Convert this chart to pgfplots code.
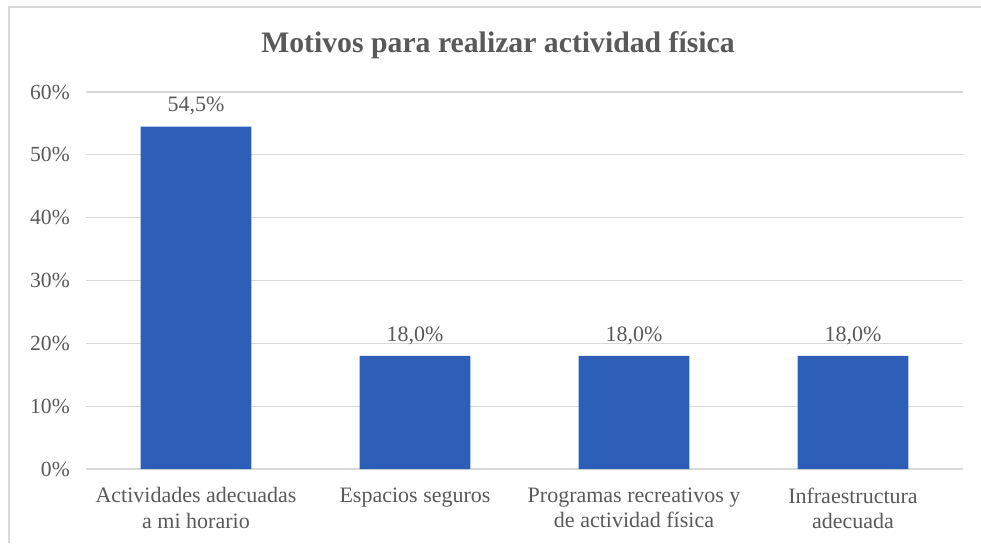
\documentclass[border=0pt]{standalone}
\usepackage{pgfplots}
\pgfplotsset{compat=1.18}
\usepackage{fontspec}
\setmainfont{Liberation Serif}
\definecolor{barblue}{HTML}{2E5FB8}
\definecolor{txtgray}{HTML}{595959}
\definecolor{gridgray}{HTML}{D9D9D9}
\definecolor{framegray}{HTML}{D9D9D9}
\begin{document}
\begin{tikzpicture}[x=0.75pt,y=0.75pt]
\path[use as bounding box] (0,0) rectangle (981,543);
\draw[framegray, line width=1.5pt] (9,0) -- (9,536) -- (981,536);
\node[font=\fontsize{22.3}{26}\selectfont\bfseries, text=txtgray] at (498,498) {Motivos para realizar actividad física};
\begin{axis}[
  at={(64.875pt,55.5pt)}, anchor=south west,
  scale only axis,
  width=657pt, height=282.75pt,
  xmin=-0.5, xmax=3.5,
  ymin=0, ymax=60,
  ytick={0,10,...,60},
  xtick={0,1,2,3},
  xticklabels={{Actividades adecuadas\\a mi horario},{Espacios seguros},{Programas recreativos y\\de actividad física},{Infraestructura\\adecuada}},
  xticklabel style={align=center, font=\fontsize{16.5}{19}\selectfont, text=txtgray, anchor=north, yshift=-10.5pt},
  yticklabel={\pgfmathprintnumber{\tick}\%},
  yticklabel style={font=\fontsize{16.2}{19}\selectfont, text=txtgray, xshift=-9pt},
  /pgf/number format/assume math mode=true,
  axis line style={draw=none},
  axis x line*=bottom,
  x axis line style={draw=gridgray, line width=0.9pt},
  major tick length=0pt,
  ymajorgrids,
  grid style={gridgray, line width=0.9pt},
  ybar, bar width=83pt,
  nodes near coords={\pgfmathprintnumber[fixed,fixed zerofill,precision=1,use comma]{\pgfplotspointmeta}\%},
  nodes near coords style={font=\fontsize{16.5}{19}\selectfont, text=txtgray, /pgf/number format/assume math mode=true, yshift=5pt},
]
\addplot[fill=barblue, draw=none] coordinates {(0,54.5) (1,18.0) (2,18.0) (3,18.0)};
\end{axis}
\end{tikzpicture}
\end{document}
